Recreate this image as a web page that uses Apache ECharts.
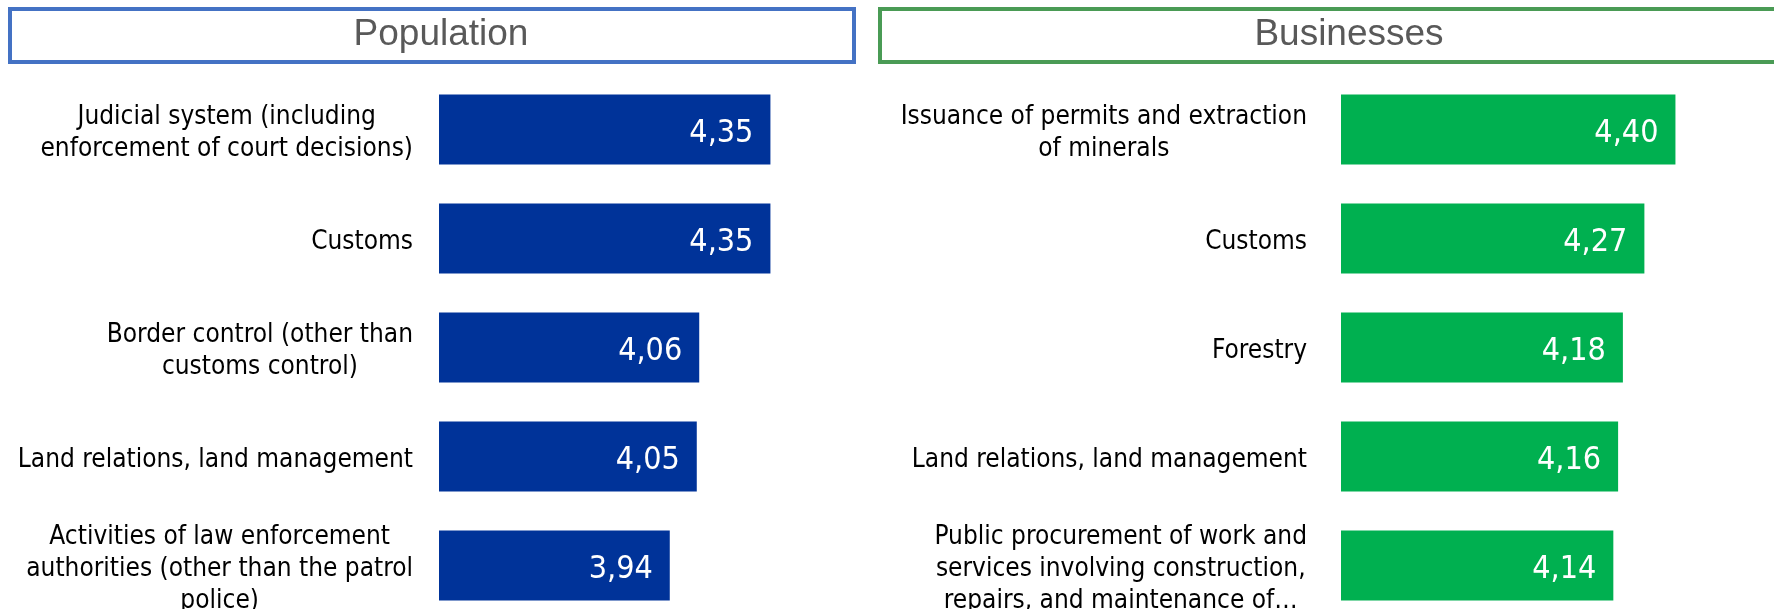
<!DOCTYPE html>
<html>
<head>
<meta charset="utf-8">
<title>chart</title>
<script src="https://cdn.jsdelivr.net/npm/echarts@6/dist/echarts.min.js"></script>
<style>
  html, body { margin: 0; padding: 0; background: #fff; }
  #x { width: 1774px; height: 609px; }
</style>
</head>
<body>
<div id="x"></div>
<script type="text/javascript">
// data
var popCats = [
  'Judicial system (including\nenforcement of court decisions)',
  'Customs',
  'Border control (other than\ncustoms control)',
  'Land relations, land management',
  'Activities of law enforcement\nauthorities (other than the patrol\npolice)'
];
var popVals = [4.35, 4.35, 4.06, 4.05, 3.94];
var bizCats = [
  'Issuance of permits and extraction\nof minerals',
  'Customs',
  'Forestry',
  'Land relations, land management',
  'Public procurement of work and\nservices involving construction,\nrepairs, and maintenance of\u2026'
];
var bizVals = [4.40, 4.27, 4.18, 4.16, 4.14];
var panelTitles = ['Population', 'Businesses'];

var labelFont = '"Liberation Sans Narrow", "DejaVu Sans Condensed", sans-serif';

function catLabel(s) {
  return s.split('\n').map(function (l) { return '{c|' + l + '}'; }).join('\n');
}
function fmt(p) { return p.value.toFixed(2).replace('.', ','); }

function yAx(idx, cats, margin) {
  return {
    type: 'category', gridIndex: idx, data: cats, inverse: true,
    axisLine: { show: false }, axisTick: { show: false }, splitLine: { show: false },
    axisLabel: {
      margin: margin, formatter: catLabel, color: '#000', padding: [8, 0, 0, 0],
      rich: { c: { align: 'center', fontFamily: labelFont, fontSize: 26, lineHeight: 32, color: '#000' } }
    }
  };
}
function xAx(idx, max) {
  return { type: 'value', gridIndex: idx, min: 3, max: max, show: false, splitLine: { show: false } };
}
function bars(idx, vals, color) {
  return {
    type: 'bar', xAxisIndex: idx, yAxisIndex: idx, data: vals, barWidth: 70,
    itemStyle: { color: color },
    label: { show: true, position: 'insideRight', distance: 17, offset: [0, 4], formatter: fmt,
      color: '#fff', fontFamily: labelFont, fontSize: 32 }
  };
}

var option = {
  backgroundColor: '#fff',
  animation: false,
  grid: [
    { left: 439, top: 75, width: 491, height: 545, outerBoundsMode: 'none', containLabel: false },
    { left: 1341, top: 75, width: 430, height: 545, outerBoundsMode: 'none', containLabel: false }
  ],
  xAxis: [xAx(0, 5), xAx(1, 4.8)],
  yAxis: [yAx(0, popCats, 26), yAx(1, bizCats, 34)],
  series: [bars(0, popVals, '#003399'), bars(1, bizVals, '#00B050')],
  graphic: [
    { type: 'rect', shape: { x: 10, y: 9, width: 844, height: 53 },
      style: { fill: '#fff', stroke: '#4472C4', lineWidth: 4 } },
    { type: 'rect', shape: { x: 880, y: 9, width: 910, height: 53 },
      style: { fill: '#fff', stroke: '#4A9B55', lineWidth: 4 } },
    { type: 'text', x: 441, y: 35,
      style: { text: panelTitles[0], fill: '#595959', font: '37px "Liberation Sans", Arial, sans-serif',
        textAlign: 'center', textVerticalAlign: 'middle' } },
    { type: 'text', x: 1349, y: 35,
      style: { text: panelTitles[1], fill: '#595959', font: '37px "Liberation Sans", Arial, sans-serif',
        textAlign: 'center', textVerticalAlign: 'middle' } }
  ]
};

var mychart = echarts.init(document.getElementById('x'));
mychart.setOption(option);
</script>
</body>
</html>
